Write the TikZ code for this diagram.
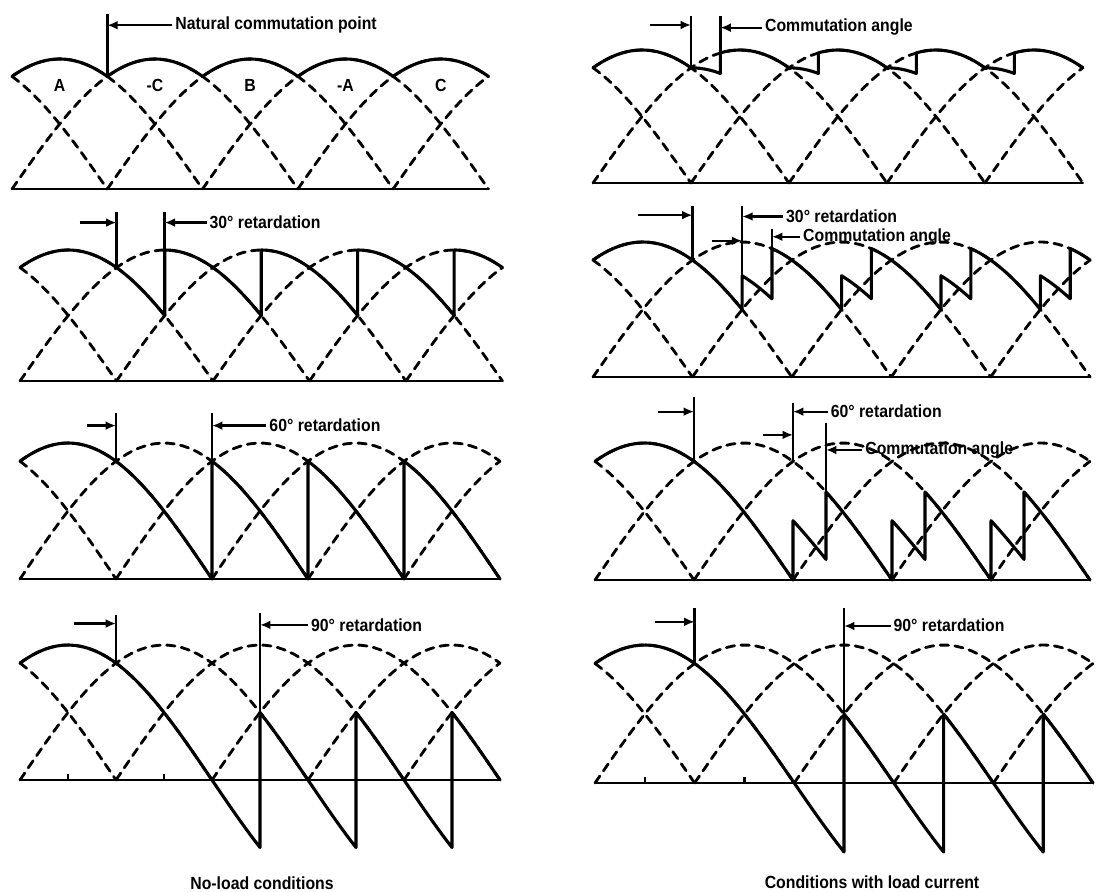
\documentclass[tikz,border=0pt]{standalone}
\usepackage{fontspec}
\setmainfont{Liberation Sans}
\newfontfamily\labelfont{Liberation Sans}[FakeStretch=0.9]
\usetikzlibrary{arrows.meta}
\tikzset{
  axisline/.style={line width=1.8pt,line cap=round},
  phasearc/.style={line width=2pt,dash pattern=on 6pt off 4.5pt,line cap=round},
  wave/.style={line width=2.2pt,line join=round,line cap=round},
  tickline/.style={line width=1.8pt},
  pointer/.style={-{Latex[length=2.6mm,width=2.2mm]},line width=1.6pt},
  lbl/.style={anchor=west,inner sep=2pt,font=\labelfont\bfseries\fontsize{12.5}{14}\selectfont},
  phaselbl/.style={font=\labelfont\bfseries\fontsize{12.5}{14}\selectfont},
  caption/.style={font=\labelfont\bfseries\fontsize{12.5}{14}\selectfont},
}
% baseline and dashed phase voltages, angle 0..300 deg
\newcommand{\phasegrid}{%
  \draw[axisline] (0,0) -- (300,0);
  \foreach \p in {-30,30,90,150,210,270,330}{
    \pgfmathsetmacro{\arcfrom}{max(0,\p-90)}
    \pgfmathsetmacro{\arcto}{min(300,\p+90)}
    \draw[phasearc] plot[domain=\arcfrom:\arcto,samples=40] (\x,{cos(\x-\p)});
  }}
% output voltage: #1 retardation, #2 last phase
\newcommand{\outwave}[2]{%
  \draw[wave] plot[domain=0:{60+#1},samples=40] (\x,{cos(\x-30)})
    foreach \k in {1,...,#2}{
      -- plot[domain={60*\k+#1}:{min(300,60*\k+60+#1)},samples=30] (\x,{cos(\x-60*\k-30)}) };}
% output voltage with overlap: #1 retardation, #2 commutation angle, #3 last phase
\newcommand{\loadwave}[3]{%
  \draw[wave] plot[domain=0:{60+#1},samples=40] (\x,{cos(\x-30)})
    foreach \k in {1,...,#3}{
      -- plot[domain={60*\k+#1}:{60*\k+#1+#2},samples=10] (\x,{(cos(\x-60*\k+30)+cos(\x-60*\k-30))/2})
      -- plot[domain={60*\k+#1+#2}:{min(300,60*\k+60+#1)},samples=30] (\x,{cos(\x-60*\k-30)}) };}

\begin{document}
\begin{tikzpicture}[x=0.025cm,y=-0.025cm]
  \useasboundingbox (0,0) rectangle (1109,892);

  % ---- no load, 0 deg
  \begin{scope}[shift={(12,189)},xscale=1.588,yscale=-130]
    \phasegrid
    \outwave{0}{4}
    \foreach \ph/\t [count=\i] in {30/A,90/-C,150/B,210/-A,270/C}
      \node[phaselbl] (ph\i) at (\ph,0.8) {\t};
    \coordinate (l1t) at (60,1.35);
    \coordinate (l1b) at (60,0.866);
    \draw[tickline] (l1t) -- (l1b);
    \node[lbl] (ncp) at (101,1.26) {Natural commutation point};
    \draw[pointer] (ncp.west) -- (ncp.west -| l1t);
  \end{scope}

  % ---- load, 0 deg
  \begin{scope}[shift={(593,183)},xscale=1.633,yscale=-133]
    \phasegrid
    \loadwave{0}{18}{4}
    \coordinate (r1t) at (60,1.26);
    \coordinate (r1b) at (60,0.866);
    \coordinate (r1u) at (78,1.26);
    \coordinate (r1v) at (78,0.978);
    \draw[tickline] (r1t) -- (r1b);
    \draw[tickline] (r1u) -- (r1v);
    \coordinate (r1tail) at (35,1.19);
    \draw[pointer] (r1tail) -- (r1tail -| r1t);
    \node[lbl] (r1ca) at (103.5,1.17) {Commutation angle};
    \draw[pointer] (r1ca.west) -- (r1ca.west -| r1u);
  \end{scope}

  % ---- no load, 30 deg
  \begin{scope}[shift={(20,381)},xscale=1.608,yscale=-131]
    \phasegrid
    \outwave{30}{4}
    \coordinate (l2t) at (60,1.29);
    \coordinate (l2b) at (60,0.866);
    \coordinate (l2u) at (90,1.29);
    \coordinate (l2v) at (90,1);
    \draw[tickline] (l2t) -- (l2b);
    \draw[tickline] (l2u) -- (l2v);
    \coordinate (l2tail) at (37,1.21);
    \draw[pointer] (l2tail) -- (l2tail -| l2t);
    \node[lbl] (l2ret) at (116,1.21) {30° retardation};
    \draw[pointer] (l2ret.west) -- (l2ret.west -| l2u);
  \end{scope}

  % ---- load, 30 deg
  \begin{scope}[shift={(593,377)},xscale=1.657,yscale=-135]
    \phasegrid
    \loadwave{30}{18}{4}
    \coordinate (r2t) at (60,1.27);
    \coordinate (r2b) at (60,0.866);
    \coordinate (r2u) at (90,1.27);
    \coordinate (r2v) at (90,0.75);
    \coordinate (r2c) at (108,1.10);
    \coordinate (r2d) at (108,0.951);
    \draw[tickline] (r2t) -- (r2b);
    \draw[tickline] (r2u) -- (r2v);
    \draw[tickline] (r2c) -- (r2d);
    \coordinate (r2tail) at (27,1.2);
    \draw[pointer] (r2tail) -- (r2tail -| r2t);
    \coordinate (r2tail2) at (72,1.01);
    \draw[pointer] (r2tail2) -- (r2tail2 -| r2u);
    \node[lbl] (r2ret) at (114.7,1.19) {30° retardation};
    \draw[pointer] (r2ret.west) -- (r2ret.west -| r2u);
    \node[lbl] (r2ca) at (125,1.04) {Commutation angle};
    \draw[pointer] (r2ca.west) -- (r2ca.west -| r2c);
  \end{scope}

  % ---- no load, 60 deg
  \begin{scope}[shift={(20,579)},xscale=1.6,yscale=-136]
    \phasegrid
    \outwave{60}{3}
    \coordinate (l3t) at (60,1.22);
    \coordinate (l3b) at (60,0.866);
    \coordinate (l3u) at (120,1.22);
    \coordinate (l3v) at (120,0.866);
    \draw[tickline] (l3t) -- (l3b);
    \draw[tickline] (l3u) -- (l3v);
    \coordinate (l3tail) at (42,1.13);
    \draw[pointer] (l3tail) -- (l3tail -| l3t);
    \node[lbl] (l3ret) at (154,1.13) {60° retardation};
    \draw[pointer] (l3ret.west) -- (l3ret.west -| l3u);
  \end{scope}

  % ---- load, 60 deg
  \begin{scope}[shift={(595,580)},xscale=1.65,yscale=-137]
    \phasegrid
    \loadwave{60}{20}{3}
    \coordinate (r3t) at (60,1.34);
    \coordinate (r3b) at (60,0.866);
    \coordinate (r3u) at (120,1.29);
    \coordinate (r3v) at (120,0.866);
    \coordinate (r3c) at (140,1.15);
    \coordinate (r3d) at (140,0.643);
    \draw[tickline] (r3t) -- (r3b);
    \draw[tickline] (r3u) -- (r3v);
    \draw[tickline] (r3c) -- (r3d);
    \coordinate (r3tail) at (38,1.23);
    \draw[pointer] (r3tail) -- (r3tail -| r3t);
    \coordinate (r3tail2) at (102,1.06);
    \draw[pointer] (r3tail2) -- (r3tail2 -| r3u);
    \node[lbl] (r3ret) at (141,1.23) {60° retardation};
    \draw[pointer] (r3ret.west) -- (r3ret.west -| r3u);
    \node[lbl] (r3ca) at (162,0.95) {Commutation angle};
    \draw[pointer] (r3ca.west) -- (r3ca.west -| r3c);
  \end{scope}

  % ---- no load, 90 deg
  \begin{scope}[shift={(20,780)},xscale=1.6,yscale=-135]
    \phasegrid
    \outwave{90}{3}
    \foreach \t in {30,90}
      \draw[tickline] (\t,0) -- (\t,0.045);
    \coordinate (l4t) at (60,1.22);
    \coordinate (l4b) at (60,0.866);
    \coordinate (l4u) at (150,1.24);
    \coordinate (l4v) at (150,0.5);
    \draw[tickline] (l4t) -- (l4b);
    \draw[tickline] (l4u) -- (l4v);
    \coordinate (l4tail) at (34,1.16);
    \draw[pointer] (l4tail) -- (l4tail -| l4t);
    \node[lbl] (l4ret) at (180,1.15) {90° retardation};
    \draw[pointer] (l4ret.west) -- (l4ret.west -| l4u);
  \end{scope}

  % ---- load, 90 deg
  \begin{scope}[shift={(595,783)},xscale=1.66,yscale=-138]
    \phasegrid
    \outwave{90}{3}
    \foreach \t in {30,90}
      \draw[tickline] (\t,0) -- (\t,0.045);
    \coordinate (r4t) at (60,1.27);
    \coordinate (r4b) at (60,0.866);
    \coordinate (r4u) at (150,1.27);
    \coordinate (r4v) at (150,0.5);
    \draw[tickline] (r4t) -- (r4b);
    \draw[tickline] (r4u) -- (r4v);
    \coordinate (r4tail) at (36,1.17);
    \draw[pointer] (r4tail) -- (r4tail -| r4t);
    \node[lbl] (r4ret) at (178,1.14) {90° retardation};
    \draw[pointer] (r4ret.west) -- (r4ret.west -| r4u);
  \end{scope}

  \node[caption] (noload) at (262,883) {No-load conditions};
  \node[caption] (withload) at (872,882) {Conditions with load current};
\end{tikzpicture}
\end{document}
